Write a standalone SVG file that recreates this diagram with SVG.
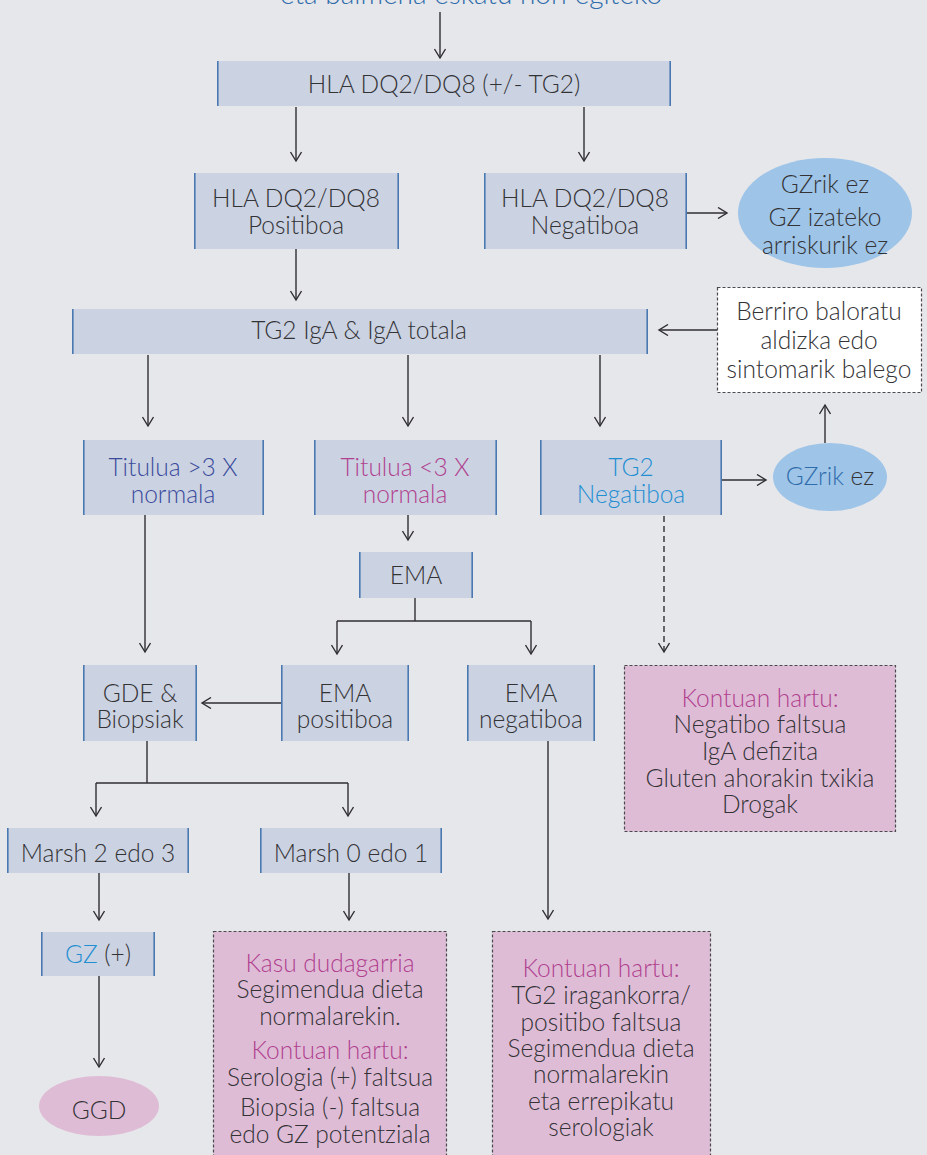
<svg xmlns="http://www.w3.org/2000/svg" width="927" height="1155" viewBox="0 0 927 1155">
  <defs>
    <marker id="arr" viewBox="0 0 12 12" refX="10" refY="6" markerWidth="12" markerHeight="12" markerUnits="userSpaceOnUse" orient="auto">
      <path d="M1,0.5 L10,6 L1,11.5" fill="none" stroke="#2f2f33" stroke-width="1.4"/>
    </marker>
    <style>
      text { font-family: Lato, "Open Sans", "Liberation Sans", sans-serif; font-size: 24.5px; font-weight: 300; fill: #333336; text-anchor: middle; }
      .box { fill: #cbd2e2; }
      .side { stroke: #4a79b2; stroke-width: 1.6; }
      .blue-ell { fill: #9ec4e8; }
      .pink { fill: #dfbcd6; }
      .dash { fill: none; stroke: #4a4a4e; stroke-width: 1.2; stroke-dasharray: 3 2; }
      .line { fill: none; stroke: #2f2f33; stroke-width: 1.4; }
      .dline { fill: none; stroke: #2f2f33; stroke-width: 1.4; stroke-dasharray: 6 4; }
      .mag { fill: #b0418f; }
      .lblue { fill: #1f8fd2; }
      .dblue { fill: #3a4b9c; }
      .sblue { fill: #2f6cab; }
    </style>
  </defs>

  <rect width="927" height="1155" fill="#e6e7ea"/>

  <!-- heading line, partly above the page edge -->
  <text x="471" y="4" class="sblue" style="font-size:28px">eta baimena eskatu hori egiteko</text>

  <g id="connectors">
    <path class="line" d="M440,12 V58" marker-end="url(#arr)"/>
    <path class="line" d="M296,107 V161" marker-end="url(#arr)"/>
    <path class="line" d="M584,107 V161" marker-end="url(#arr)"/>
    <path class="line" d="M687,213 H727" marker-end="url(#arr)"/>
    <path class="line" d="M296,249 V300" marker-end="url(#arr)"/>
    <path class="line" d="M717,330 H659" marker-end="url(#arr)"/>
    <path class="line" d="M148,355 V426" marker-end="url(#arr)"/>
    <path class="line" d="M408,355 V426" marker-end="url(#arr)"/>
    <path class="line" d="M600,355 V426" marker-end="url(#arr)"/>
    <path class="line" d="M722,480 H766" marker-end="url(#arr)"/>
    <path class="line" d="M825,443 V405" marker-end="url(#arr)"/>
    <path class="dline" d="M664,516 V652" marker-end="url(#arr)"/>
    <path class="line" d="M408,515 V540" marker-end="url(#arr)"/>
    <path class="line" d="M145,515 V652" marker-end="url(#arr)"/>
    <path class="line" d="M415,598 V621"/>
    <path class="line" d="M337,621 H531"/>
    <path class="line" d="M337,621 V654" marker-end="url(#arr)"/>
    <path class="line" d="M531,621 V654" marker-end="url(#arr)"/>
    <path class="line" d="M281,703 H202" marker-end="url(#arr)"/>
    <path class="line" d="M147,741 V783"/>
    <path class="line" d="M96,783 H348"/>
    <path class="line" d="M96,783 V816" marker-end="url(#arr)"/>
    <path class="line" d="M348,783 V816" marker-end="url(#arr)"/>
    <path class="line" d="M99,873 V920" marker-end="url(#arr)"/>
    <path class="line" d="M349,873 V920" marker-end="url(#arr)"/>
    <path class="line" d="M548,741 V919" marker-end="url(#arr)"/>
    <path class="line" d="M99,976 V1067" marker-end="url(#arr)"/>
  </g>

  <g id="hla-test">
    <rect class="box" x="217" y="61" width="454" height="45"/>
    <path class="side" d="M217.8,61 V106 M670.2,61 V106"/>
    <text x="444" y="93">HLA DQ2/DQ8 (+/- TG2)</text>
  </g>

  <g id="hla-pos">
    <rect class="box" x="194" y="173" width="205" height="76"/>
    <path class="side" d="M194.8,173 V249 M398.2,173 V249"/>
    <text x="296" y="207">HLA DQ2/DQ8</text>
    <text x="296" y="234">Positiboa</text>
  </g>

  <g id="hla-neg">
    <rect class="box" x="484" y="173" width="203" height="76"/>
    <path class="side" d="M484.8,173 V249 M686.2,173 V249"/>
    <text x="585" y="207">HLA DQ2/DQ8</text>
    <text x="585" y="234">Negatiboa</text>
  </g>

  <g id="no-risk">
    <ellipse class="blue-ell" cx="825" cy="213" rx="87" ry="55"/>
    <text x="825" y="193">GZrik ez</text>
    <text x="825" y="226">GZ izateko</text>
    <text x="825" y="254">arriskurik ez</text>
  </g>

  <g id="tg2-iga">
    <rect class="box" x="72" y="309" width="576" height="45"/>
    <path class="side" d="M72.8,309 V354 M647.2,309 V354"/>
    <text x="359" y="339">TG2 IgA &amp; IgA totala</text>
  </g>

  <g id="reassess">
    <rect x="717.5" y="287.5" width="204" height="105" fill="#ffffff"/>
    <rect class="dash" x="717.5" y="287.5" width="204" height="105"/>
    <text x="819" y="320">Berriro baloratu</text>
    <text x="819" y="349">aldizka edo</text>
    <text x="819" y="378">sintomarik balego</text>
  </g>

  <g id="titer-high">
    <rect class="box" x="83" y="440" width="181" height="75"/>
    <path class="side" d="M83.8,440 V515 M263.2,440 V515"/>
    <text x="173" y="476" class="dblue">Titulua &gt;3 X</text>
    <text x="173" y="503" class="dblue">normala</text>
  </g>

  <g id="titer-low">
    <rect class="box" x="314" y="440" width="183" height="75"/>
    <path class="side" d="M314.8,440 V515 M496.2,440 V515"/>
    <text x="405" y="476" class="mag">Titulua &lt;3 X</text>
    <text x="405" y="503" class="mag">normala</text>
  </g>

  <g id="tg2-neg">
    <rect class="box" x="540" y="440" width="182" height="75"/>
    <path class="side" d="M540.8,440 V515 M721.2,440 V515"/>
    <text x="631" y="476" class="lblue">TG2</text>
    <text x="631" y="503" class="lblue">Negatiboa</text>
  </g>

  <g id="no-cd">
    <ellipse class="blue-ell" cx="830" cy="477" rx="57" ry="34"/>
    <text x="830" y="485"><tspan class="sblue">GZrik</tspan> ez</text>
  </g>

  <g id="ema">
    <rect class="box" x="359" y="552" width="114" height="46"/>
    <path class="side" d="M359.8,552 V598 M472.2,552 V598"/>
    <text x="416" y="584">EMA</text>
  </g>

  <g id="gde">
    <rect class="box" x="83" y="665" width="114" height="76"/>
    <path class="side" d="M83.8,665 V741 M196.2,665 V741"/>
    <text x="140" y="702">GDE &amp;</text>
    <text x="140" y="728">Biopsiak</text>
  </g>

  <g id="ema-pos">
    <rect class="box" x="281" y="665" width="128" height="76"/>
    <path class="side" d="M281.8,665 V741 M408.2,665 V741"/>
    <text x="345" y="702">EMA</text>
    <text x="345" y="728">positiboa</text>
  </g>

  <g id="ema-neg">
    <rect class="box" x="467" y="665" width="128" height="76"/>
    <path class="side" d="M467.8,665 V741 M594.2,665 V741"/>
    <text x="531" y="702">EMA</text>
    <text x="531" y="728">negatiboa</text>
  </g>

  <g id="note-tg2-neg">
    <rect class="pink" x="624.5" y="665.5" width="271" height="166"/>
    <rect class="dash" x="624.5" y="665.5" width="271" height="166"/>
    <text x="760" y="707" class="mag">Kontuan hartu:</text>
    <text x="760" y="733">Negatibo faltsua</text>
    <text x="760" y="760">IgA defizita</text>
    <text x="760" y="787">Gluten ahorakin txikia</text>
    <text x="760" y="813">Drogak</text>
  </g>

  <g id="marsh-23">
    <rect class="box" x="7" y="828" width="182" height="45"/>
    <path class="side" d="M7.8,828 V873 M188.2,828 V873"/>
    <text x="98" y="862">Marsh 2 edo 3</text>
  </g>

  <g id="marsh-01">
    <rect class="box" x="260" y="828" width="182" height="45"/>
    <path class="side" d="M260.8,828 V873 M441.2,828 V873"/>
    <text x="351" y="862">Marsh 0 edo 1</text>
  </g>

  <g id="cd-pos">
    <rect class="box" x="41" y="932" width="114" height="44"/>
    <path class="side" d="M41.8,932 V976 M154.2,932 V976"/>
    <text x="98" y="963"><tspan class="lblue">GZ</tspan> (+)</text>
  </g>

  <g id="ggd">
    <ellipse class="pink" cx="99" cy="1106" rx="60" ry="30"/>
    <text x="99" y="1119">GGD</text>
  </g>

  <g id="note-doubtful">
    <rect class="pink" x="213.5" y="931.5" width="233" height="240"/>
    <rect class="dash" x="213.5" y="931.5" width="233" height="240"/>
    <text x="330" y="972" class="mag">Kasu dudagarria</text>
    <text x="330" y="998">Segimendua dieta</text>
    <text x="330" y="1025">normalarekin.</text>
    <text x="330" y="1059" class="mag">Kontuan hartu:</text>
    <text x="330" y="1086">Serologia (+) faltsua</text>
    <text x="330" y="1116">Biopsia (-) faltsua</text>
    <text x="330" y="1143">edo GZ potentziala</text>
  </g>

  <g id="note-ema-neg">
    <rect class="pink" x="492.5" y="931.5" width="218" height="240"/>
    <rect class="dash" x="492.5" y="931.5" width="218" height="240"/>
    <text x="601" y="977" class="mag">Kontuan hartu:</text>
    <text x="601" y="1004">TG2 iragankorra/</text>
    <text x="601" y="1031">positibo faltsua</text>
    <text x="601" y="1057">Segimendua dieta</text>
    <text x="601" y="1083">normalarekin</text>
    <text x="601" y="1110">eta errepikatu</text>
    <text x="601" y="1136">serologiak</text>
  </g>
</svg>
